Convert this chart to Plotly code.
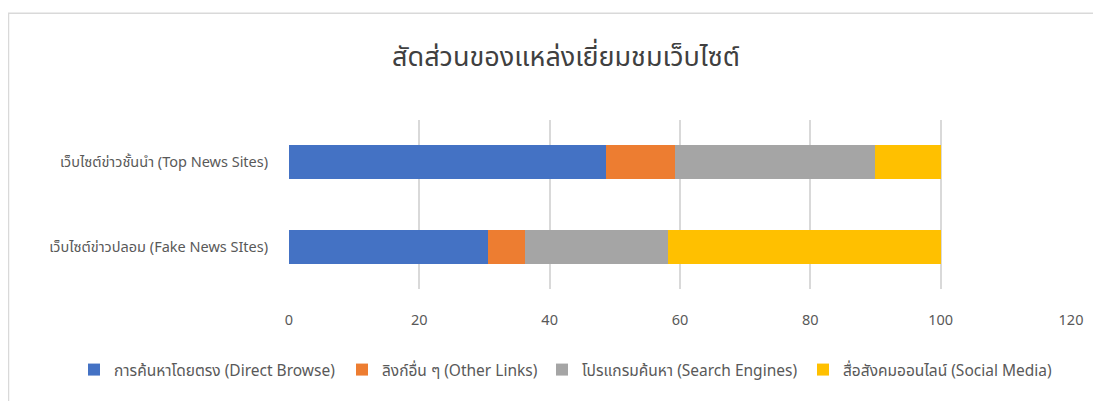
import plotly.graph_objects as go

categories = ["เว็บไซต์ข่าวปลอม (Fake News SItes)", "เว็บไซต์ข่าวชั้นนำ (Top News Sites)"]
series_names = [
    "การค้นหาโดยตรง (Direct Browse)",
    "ลิงก์อื่น ๆ (Other Links)",
    "โปรแกรมค้นหา (Search Engines)",
    "สื่อสังคมออนไลน์ (Social Media)",
]
direct_browse = [30.5, 48.6]
other_links = [5.7, 10.6]
search_engines = [21.9, 30.7]
social_media = [41.9, 10.1]
x_ticks = [0, 20, 40, 60, 80, 100, 120]
title_text = "สัดส่วนของแหล่งเยี่ยมชมเว็บไซต์"

colors = ["#4472C4", "#ED7D31", "#A5A5A5", "#FFC000"]
values = [direct_browse, other_links, search_engines, social_media]

FONT = "Tahoma, 'Noto Sans Thai', 'Noto Sans', sans-serif"

W, H = 1101, 401
PL, PR, PT, PB = 281, 1063, 111.5, 281.5

# legend entry symbol centres (px) in the figure
legend_centres = [86, 354, 554, 815]
legend_ids = ["legend", "legend2", "legend3", "legend4"]

fig = go.Figure()
for name, vals, col, lid in zip(series_names, values, colors, legend_ids):
    fig.add_trace(go.Bar(
        y=categories, x=vals, name=name, orientation="h",
        marker=dict(color=col, line=dict(width=0)), legend=lid,
    ))

fig.update_layout(
    barmode="stack",
    bargap=0.6,
    width=W, height=H,
    paper_bgcolor="white", plot_bgcolor="white",
    margin=dict(l=PL, r=W - PR, t=PT, b=H - PB, autoexpand=False),
    font=dict(family=FONT, size=14, color="#595959"),
    title=dict(text=title_text, x=558 / W, xref="container", xanchor="center",
               y=1 - 49 / H, yref="container", yanchor="middle",
               font=dict(size=27, color="#404040", family=FONT)),
    xaxis=dict(range=[0, 120], tickvals=x_ticks, showgrid=True, gridcolor="#D9D9D9",
               gridwidth=1.5, zeroline=False, showline=False, ticks="outside",
               ticklen=18, tickcolor="rgba(0,0,0,0)", tickfont=dict(size=14.5, color="#595959"),
               fixedrange=True),
    yaxis=dict(showgrid=False, zeroline=False, showline=False, ticks="outside",
               ticklen=17, tickcolor="rgba(0,0,0,0)", tickfont=dict(size=14.5, color="#595959")),
    showlegend=True,
)

for lid, cx in zip(legend_ids, legend_centres):
    fig.update_layout({lid: dict(
        orientation="h", xref="container", x=(cx - 20) / W, xanchor="left",
        yref="container", y=1 - 362 / H, yanchor="middle",
        font=dict(size=15.5, color="#595959"), itemwidth=30,
        bgcolor="rgba(0,0,0,0)",
    )})

fig.add_shape(type="rect", xref="paper", yref="paper",
              x0=(0.5 - PL) / (PR - PL), x1=1.2, y0=-1.5, y1=(PB - 4) / (PB - PT),
              line=dict(color="#D9D9D9", width=1.5), fillcolor="rgba(0,0,0,0)", layer="below")

fig.write_html("out.html")
